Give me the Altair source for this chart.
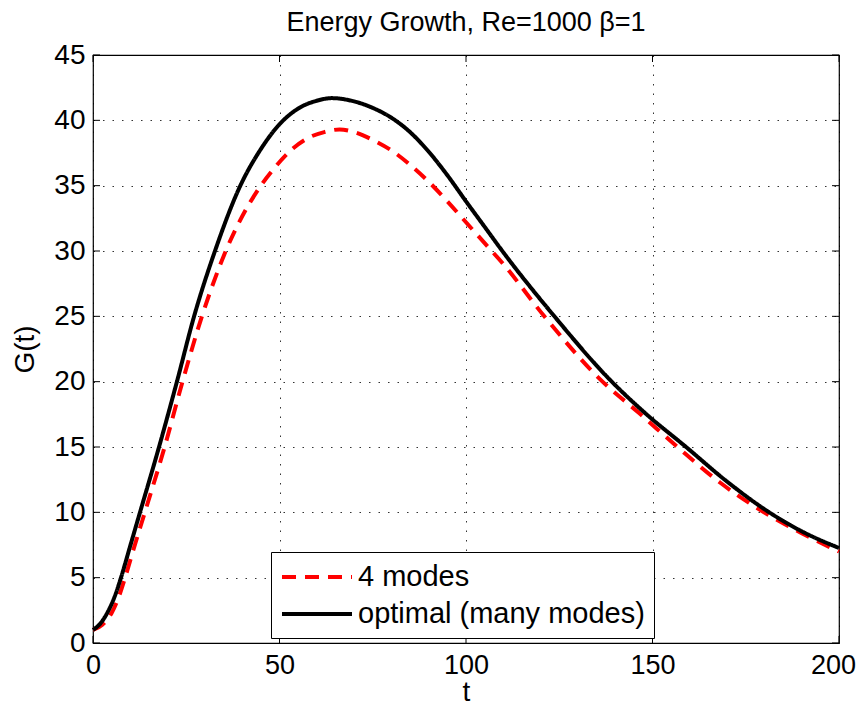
import altair as alt
import pandas as pd

# Optimal (many modes) curve
t_opt = [0, 2, 4, 6, 7.5, 10, 12.6, 17.7, 22.5, 27.1, 32.7, 39.5, 45, 50, 55, 60, 64,
         70, 75, 80, 85, 90, 95, 100, 105, 110, 123.7, 138.4, 148, 159, 170, 181.3,
         190, 200]
g_opt = [1.0, 1.5, 2.4, 3.7, 5.0, 7.45, 10.0, 15.0, 20.0, 25.0, 30.0, 35.0, 37.8, 39.7,
         40.9, 41.5, 41.7, 41.45, 40.95, 40.2, 39.1, 37.6, 35.8, 33.8, 31.85, 29.9,
         25.0, 20.2, 17.6, 15.0, 12.35, 10.0, 8.55, 7.27]

# 4 modes curve
t_four = [0, 2.5, 5, 7, 8.6, 11, 13.9, 19.2, 24.0, 29.2, 35.6, 45.0, 48.2, 53, 58, 62,
          66.1, 70, 75, 80, 85, 90, 95, 100, 105, 110, 121, 136.6, 146.4, 156.7, 168,
          179.9, 190, 200]
g_four = [1.0, 1.4, 2.3, 3.6, 5.0, 7.3, 10.0, 15.0, 20.0, 25.0, 30.0, 35.0, 36.2, 37.7,
          38.7, 39.1, 39.3, 39.1, 38.5, 37.7, 36.6, 35.3, 33.8, 32.2, 30.6, 29.0, 25.0,
          20.0, 17.6, 15.0, 12.3, 10.0, 8.4, 7.0]

series_names = ["4 modes", "optimal (many modes)"]
series_colors = ["#ff0000", "#000000"]

x_ticks = [0, 50, 100, 150, 200]
y_ticks = [0, 5, 10, 15, 20, 25, 30, 35, 40, 45]

df = pd.concat([
    pd.DataFrame({"t": t_four, "G": g_four, "series": series_names[0], "ord": 0}),
    pd.DataFrame({"t": t_opt, "G": g_opt, "series": series_names[1], "ord": 1}),
])

W, H = 746, 588
FONT = "Liberation Sans"
TICK = 7

xscale = alt.Scale(domain=[0, 200], nice=False, zero=False)
yscale = alt.Scale(domain=[0, 45], nice=False, zero=False)

leg = alt.Legend(title=None, orient="none", legendX=178, legendY=497, direction="vertical")

lines = alt.Chart(df).mark_line(strokeWidth=4, interpolate="monotone").encode(
    x=alt.X("t:Q", scale=xscale,
            axis=alt.Axis(values=x_ticks, title="t", grid=True, ticks=False, tickSize=0,
                          domain=False, labelPadding=9, titlePadding=0, labelFontSize=27,
                          labelOffset={"condition": {"test": "datum.value == 200",
                                                     "value": -6}, "value": 0},
                          gridDash=[1.5, 8], gridColor="#000000", gridOpacity=0.8,
                          labelFlush=False)),
    y=alt.Y("G:Q", scale=yscale,
            axis=alt.Axis(values=y_ticks, title="G(t)", grid=True, ticks=False, tickSize=0,
                          domain=False, labelPadding=8, titlePadding=14,
                          gridDash=[1.5, 8], gridColor="#000000", gridOpacity=0.8,
                          labelFlush=False)),
    color=alt.Color("series:N", scale=alt.Scale(domain=series_names, range=series_colors),
                    legend=leg),
    strokeDash=alt.StrokeDash("series:N",
                              scale=alt.Scale(domain=series_names, range=[[14, 9], [1, 0]]),
                              legend=leg),
    order=alt.Order("ord:Q"),
)

xt = pd.DataFrame({"v": x_ticks})
yt = pd.DataFrame({"v": y_ticks})

xb = alt.Chart(xt).mark_rule(color="black", strokeWidth=1).encode(
    x=alt.X("v:Q", scale=xscale), y=alt.value(H), y2=alt.value(H - TICK))
xtop = alt.Chart(xt).mark_rule(color="black", strokeWidth=1).encode(
    x=alt.X("v:Q", scale=xscale), y=alt.value(0), y2=alt.value(TICK))
yl = alt.Chart(yt).mark_rule(color="black", strokeWidth=1).encode(
    y=alt.Y("v:Q", scale=yscale), x=alt.value(0), x2=alt.value(TICK))
yr = alt.Chart(yt).mark_rule(color="black", strokeWidth=1).encode(
    y=alt.Y("v:Q", scale=yscale), x=alt.value(W), x2=alt.value(W - TICK))

chart = alt.layer(lines, xb, xtop, yl, yr).properties(
    width=W, height=H,
    background="white",
    title=alt.TitleParams("Energy Growth, Re=1000 β=1", font=FONT, fontSize=27,
                          fontWeight="normal", color="black", offset=4, anchor="middle"),
    autosize=alt.AutoSizeParams(type="none"),
    padding={"left": 85, "top": 47, "right": 21, "bottom": 62},
).configure_view(stroke="black", strokeWidth=1.2).configure_axis(
    labelFont=FONT, labelFontSize=28, labelColor="black",
    titleFont=FONT, titleFontSize=28, titleFontWeight="normal", titleColor="black",
).configure_legend(
    labelFont=FONT, labelFontSize=29, labelColor="black", fillColor="white",
    strokeColor="black", padding=9, symbolType="M-2.5,0H2.5", symbolSize=784,
    symbolOffset=21, symbolStrokeWidth=4, labelOffset=25, rowPadding=6, labelLimit=500,
    cornerRadius=0,
)

chart.save("out.html", embed_options={"renderer": "svg", "actions": False})
